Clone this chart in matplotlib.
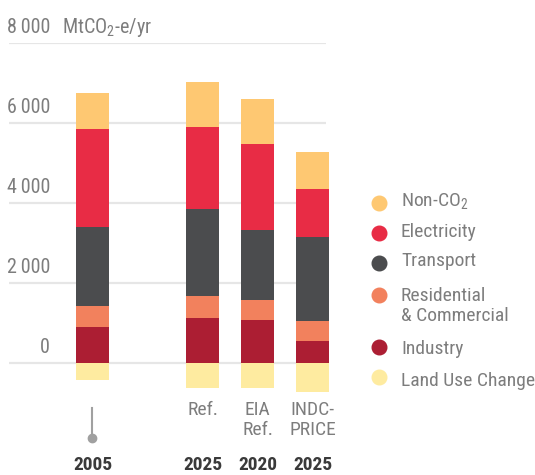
import matplotlib
matplotlib.use('Agg')
import matplotlib.pyplot as plt
from matplotlib.lines import Line2D

plt.rcParams['font.family'] = ['Roboto Condensed', 'DejaVu Sans']
plt.rcParams['mathtext.fontset'] = 'custom'
plt.rcParams['mathtext.rm'] = 'Roboto Condensed'

# data (MtCO2-e/yr)
positions = [0, 2, 3, 4]
scenarios = [[], ['Ref.'], ['EIA', 'Ref.'], ['INDC-', 'PRICE']]
years = ['2005', '2025', '2020', '2025']
industry = [900, 1130, 1080, 560]
residential = [525, 550, 500, 500]
transport = [1975, 2175, 1750, 2100]
electricity = [2450, 2050, 2150, 1200]
non_co2 = [900, 1125, 1125, 925]
land_use = [-430, -610, -610, -710]
yticks = [0, 2000, 4000, 6000, 8000]
ytick_labels = ['0', '2\u2009000', '4\u2009000', '6\u2009000', '8\u2009000']

colors = ['#ac1e33', '#f2815d', '#4b4c4e', '#e82c45', '#fec872']
luc_color = '#feeba0'
grey = '#7d7d7d'
fs = 14

fig = plt.figure(figsize=(5.35, 4.75), dpi=100)
ax = fig.add_axes([9 / 535, 0.1594, 317 / 535, 0.7494])
ax.set_xlim(-1.518, 4.245)
ax.set_ylim(-900, 8000)
ax.axis('off')

for v in yticks:
    ax.axhline(v, color='#e6e6e6', lw=1.6, zorder=0)

width = 0.6
bottom = [0] * len(positions)
for vals, c in zip([industry, residential, transport, electricity, non_co2], colors):
    ax.bar(positions, vals, width, bottom=bottom, color=c, zorder=2, clip_on=False)
    bottom = [b + v for b, v in zip(bottom, vals)]
ax.bar(positions, land_use, width, color=luc_color, zorder=2, clip_on=False)

# y tick labels sit above their grid lines
for v, lab in zip(yticks, ytick_labels):
    ax.annotate(lab, xy=(-0.773, v), xytext=(0, 7.5), textcoords='offset points',
                ha='right', va='baseline', fontsize=fs + 0.5, color=grey)
ax.annotate('MtCO$_2$-e/yr', xy=(-0.56, 8000), xytext=(0, 7.5), textcoords='offset points',
            ha='left', va='baseline', fontsize=fs + 0.5, color=grey)

# scenario labels and years under the bars
for p, lines, yr in zip(positions, scenarios, years):
    for i, s in enumerate(lines):
        ax.text(p, -1292 - 500 * i, s, ha='center', va='baseline', fontsize=fs,
                color=grey, clip_on=False)
    ax.text(p, -2780, yr, ha='center', va='bottom', fontsize=fs, color='#3a3a3a',
            fontweight='bold', clip_on=False)

# 2005 marker: short line ending in a dot
ax.add_line(Line2D([positions[0], positions[0]], [-1120, -1860], color='#a0a0a0', lw=1.5,
                   clip_on=False))
ax.plot([positions[0]], [-1865], 'o', color='#a0a0a0', ms=6, clip_on=False)

# legend, drawn by hand (marker centre, text baselines in pixels from the top)
legend_items = [(['Non-CO$_2$'], '#fec872', 202.7, [206.4]),
                (['Electricity'], '#e82c45', 233.3, [237.4]),
                (['Transport'], '#4b4c4e', 262.5, [266.4]),
                (['Residential', '& Commercial'], '#f2815d', 295, [300.7, 321.4]),
                (['Industry'], '#ac1e33', 346.5, [354]),
                (['Land Use Change'], luc_color, 377, [386.4])]
for labs, c, ypx, bases in legend_items:
    fig.add_artist(Line2D([379 / 535], [1 - ypx / 475], marker='o', color=c, ms=10.5,
                          ls='none'))
    for lab, b in zip(labs, bases):
        fig.text(401 / 535, 1 - b / 475, lab, ha='left', va='baseline', fontsize=fs,
                 color=grey)

fig.savefig('out.png', dpi=100)
